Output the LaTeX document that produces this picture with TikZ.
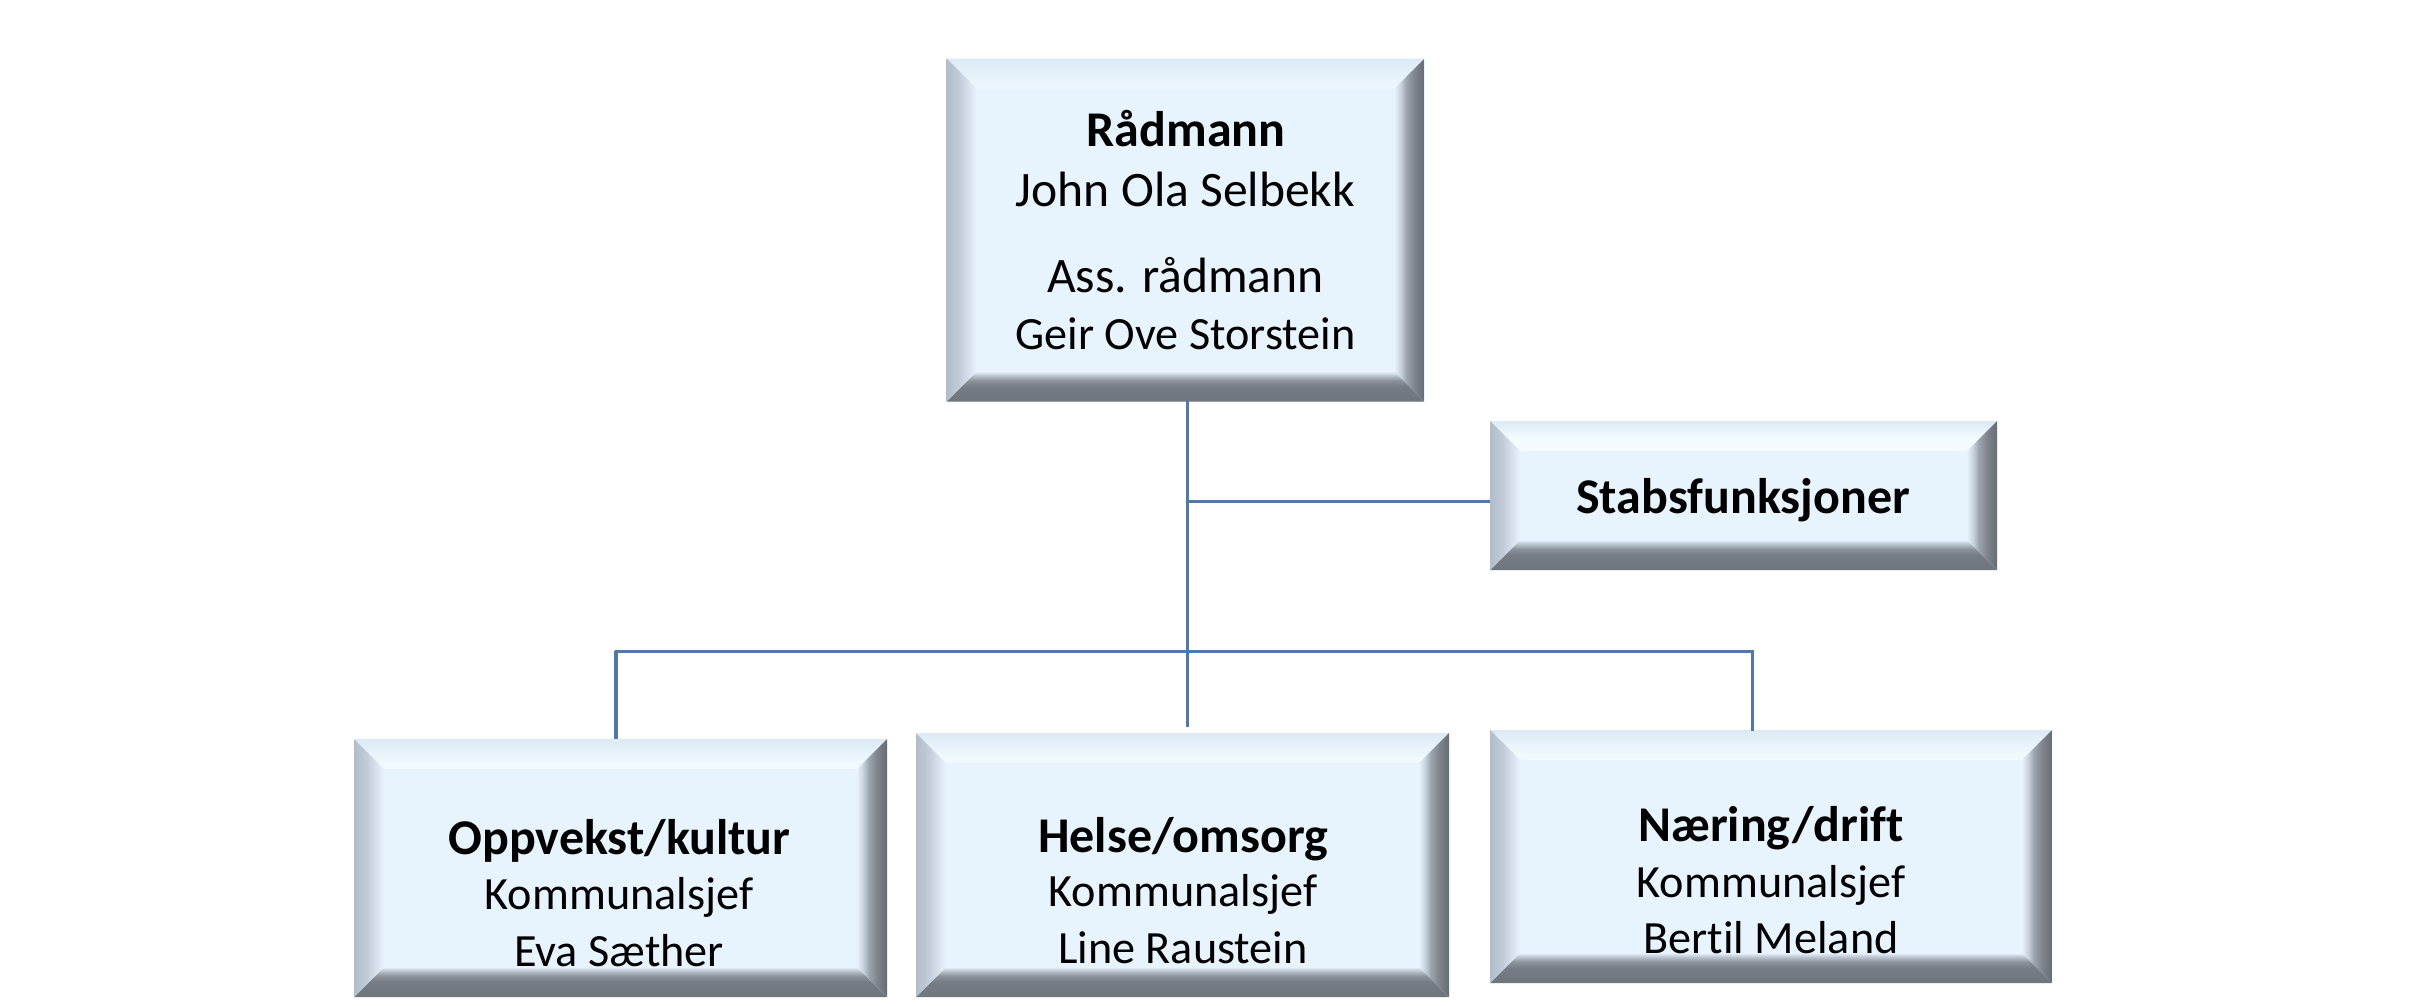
\documentclass[tikz,border=0pt]{standalone}
\usepackage{fontspec}
\setmainfont[Ligatures=NoCommon]{Carlito}
\definecolor{bi}{HTML}{FFFFFF}\definecolor{bc}{HTML}{F9FEFF}\definecolor{bb}{HTML}{F0FAFE}\definecolor{bd}{HTML}{DCEAF5}
\definecolor{de}{HTML}{6F757C}\definecolor{df}{HTML}{767C84}\definecolor{dg}{HTML}{8B929B}\definecolor{dj}{HTML}{B8C2CD}\definecolor{dh}{HTML}{E6F2FD}
\definecolor{le}{HTML}{B2BDC9}\definecolor{lf}{HTML}{C0CBD7}\definecolor{lg}{HTML}{D4DFEA}\definecolor{lh}{HTML}{E6F2FD}
\definecolor{rj}{HTML}{C8D2DD}\definecolor{rf}{HTML}{9AA3AD}\definecolor{rg}{HTML}{7F858E}\definecolor{re}{HTML}{666C74}
\definecolor{inner}{HTML}{E7F3FD}\definecolor{wire}{HTML}{5079A8}
\pgfdeclareverticalshading{bevtop}{100bp}{color(0bp)=(bi); color(45bp)=(bi); color(60bp)=(bc); color(70bp)=(bb); color(75bp)=(bd); color(100bp)=(bd)}
\pgfdeclareverticalshading{bevbot}{100bp}{color(0bp)=(de); color(25bp)=(de); color(50bp)=(df); color(60bp)=(dg); color(68bp)=(dj); color(75bp)=(dh); color(100bp)=(dh)}
\pgfdeclarehorizontalshading{bevleft}{100bp}{color(0bp)=(le); color(25bp)=(le); color(45bp)=(lf); color(60bp)=(lg); color(75bp)=(lh); color(100bp)=(lh)}
\pgfdeclarehorizontalshading{bevright}{100bp}{color(0bp)=(lh); color(25bp)=(lh); color(35bp)=(rj); color(45bp)=(rf); color(58bp)=(rg); color(75bp)=(re); color(100bp)=(re)}
\def\pbb{path picture bounding box}
\def\bw{30pt}
\tikzset{
 bevelbox/.style={rectangle,inner sep=0pt,outer sep=0pt,fill=inner,path picture={
  \shade[shading=bevtop] (\pbb.north west)--(\pbb.north east)--([xshift=-\bw,yshift=-\bw]\pbb.north east)--([xshift=\bw,yshift=-\bw]\pbb.north west)--cycle;
  \shade[shading=bevbot] (\pbb.south west)--(\pbb.south east)--([xshift=-\bw,yshift=\bw]\pbb.south east)--([xshift=\bw,yshift=\bw]\pbb.south west)--cycle;
  \shade[shading=bevleft] (\pbb.north west)--(\pbb.south west)--([xshift=\bw,yshift=\bw]\pbb.south west)--([xshift=\bw,yshift=-\bw]\pbb.north west)--cycle;
  \shade[shading=bevright] (\pbb.north east)--(\pbb.south east)--([xshift=-\bw,yshift=\bw]\pbb.south east)--([xshift=-\bw,yshift=-\bw]\pbb.north east)--cycle;
 }},
 wirestyle/.style={draw=wire,line width=3pt},
 txt/.style={anchor=base,inner sep=0pt,text=black},
 big/.style={txt,font=\fontsize{49.6}{54}\selectfont},
 mid/.style={txt,font=\fontsize{46.2}{54}\selectfont},
 bigb/.style={txt,font=\fontsize{50}{54}\selectfont\bfseries},
}
\begin{document}
\begin{tikzpicture}[x=1pt,y=-1pt]
\useasboundingbox (0,0) rectangle (2434,1005);
\fill[white] (0,0) rectangle (2434,1005);
\node[bevelbox,minimum width=478pt,minimum height=343pt] (rad) at (1185.5,230) {};
\node[bevelbox,minimum width=507pt,minimum height=149pt] (stab) at (1743.5,495.5) {};
\node[bevelbox,minimum width=533pt,minimum height=258pt] (opp) at (620.5,868) {};
\node[bevelbox,minimum width=533pt,minimum height=264pt] (hel) at (1182.5,865) {};
\node[bevelbox,minimum width=562pt,minimum height=253pt] (nar) at (1771,856.5) {};
\coordinate (top) at (1187,401);
\coordinate (stabj) at (1187,501);
\coordinate (busm) at (1187,651);
\coordinate (helend) at (1187,727);
\coordinate (busl) at (616,651);
\coordinate (busr) at (1752,651);
\coordinate (narj) at (1752,731);
\draw[wirestyle] (top) -- (helend);
\draw[wirestyle] (stabj) -- (stab.west |- stabj);
\draw[wirestyle,line cap=rect] (busl) -- (busr);
\draw[wirestyle,line width=4pt] (busl) -- (busl |- opp.north);
\draw[wirestyle] (busr) -- (narj);
\node[bigb] (t1) at (1186,146) {Rådmann};
\node[big] (t2) at (1185.5,206.5) {John Ola Selbekk};
\node[big] (t3) at (1185.5,292.5) {Ass. rådmann};
\node[mid] (t4) at (1185.5,349.5) {Geir Ove Storstein};
\node[bigb] (t5) at (1743,513) {Stabsfunksjoner};
\node[bigb] (t6) at (619.5,854.5) {Oppvekst/kultur};
\node[mid] (t7) at (619,909) {Kommunalsjef};
\node[mid] (t8) at (619,966) {Eva Sæther};
\node[bigb] (t9) at (1183,852) {Helse/omsorg};
\node[mid] (t10) at (1183,906) {Kommunalsjef};
\node[mid] (t11) at (1183,963) {Line Raustein};
\node[bigb] (t12) at (1771,841) {Næring/drift};
\node[mid] (t13) at (1771,897.5) {Kommunalsjef};
\node[mid] (t14) at (1771,953) {Bertil Meland};
\end{tikzpicture}
\end{document}
